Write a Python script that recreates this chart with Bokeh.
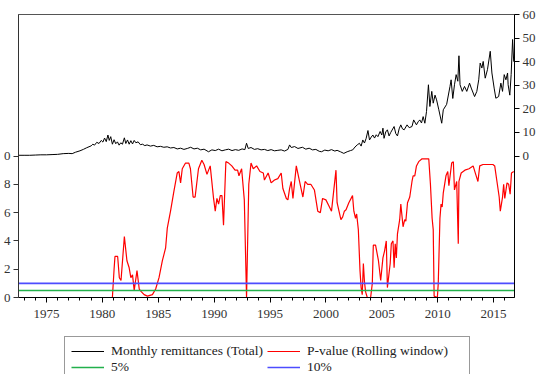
from bokeh.plotting import figure
from bokeh.layouts import column
from bokeh.models import Range1d, LinearAxis, FixedTicker, Legend, LegendItem
from bokeh.embed import file_html
from bokeh.resources import INLINE

# ---------------- data ----------------
x_start, x_end = 1972.5, 2016.87

rem_year = [1972.5, 1973.0, 1973.5, 1974.0, 1974.5, 1975.0, 1975.5, 1976.0, 1976.5, 1977.0,
            1977.3, 1977.6, 1978.0, 1978.3, 1978.6, 1979.0, 1979.15, 1979.3, 1979.5, 1979.7,
            1979.9, 1980.05, 1980.2, 1980.35, 1980.5, 1980.62, 1980.75, 1980.9, 1981.05, 1981.2,
            1981.35, 1981.5, 1981.65, 1981.8, 1981.97, 1982.1, 1982.25, 1982.4, 1982.55, 1982.7,
            1982.85, 1983.0, 1983.2, 1983.4, 1983.6, 1983.8, 1984.0, 1984.3, 1984.6, 1984.9,
            1985.2, 1985.5, 1985.8, 1986.1, 1986.4, 1986.7, 1987.0, 1987.3, 1987.6, 1987.9,
            1988.2, 1988.5, 1988.8, 1989.1, 1989.5, 1989.8, 1990.1, 1990.4, 1990.7, 1991.0,
            1991.3, 1991.6, 1991.9, 1992.2, 1992.5, 1992.75, 1992.9, 1993.05, 1993.3, 1993.6,
            1993.9, 1994.2, 1994.5, 1994.8, 1995.1, 1995.4, 1995.7, 1996.0, 1996.3, 1996.6,
            1996.75, 1996.9, 1997.2, 1997.5, 1997.9, 1998.2, 1998.5, 1998.8, 1999.1, 1999.4,
            1999.6, 1999.9, 2000.2, 2000.5, 2000.8, 2001.0, 2001.3, 2001.6, 2001.9, 2002.2,
            2002.4, 2002.6, 2002.8, 2003.0, 2003.15, 2003.3, 2003.45, 2003.6, 2003.76, 2003.9,
            2004.05, 2004.2, 2004.35, 2004.5, 2004.65, 2004.85, 2005.0, 2005.1, 2005.2, 2005.35,
            2005.5, 2005.65, 2005.8, 2006.1, 2006.25, 2006.4, 2006.55, 2006.7, 2006.85, 2007.0,
            2007.26, 2007.45, 2007.7, 2007.85, 2008.1, 2008.25, 2008.4, 2008.55, 2008.7, 2008.85,
            2009.0, 2009.17, 2009.3, 2009.47, 2009.6, 2009.76, 2009.9, 2010.1, 2010.36, 2010.5,
            2010.8, 2011.1, 2011.2, 2011.35, 2011.5, 2011.65, 2011.8, 2011.9, 2012.0, 2012.2,
            2012.4, 2012.6, 2012.85, 2013.0, 2013.3, 2013.5, 2013.67, 2013.8, 2013.95, 2014.07,
            2014.25, 2014.45, 2014.7, 2014.85, 2015.05, 2015.2, 2015.45, 2015.65, 2015.8, 2015.95,
            2016.1, 2016.25, 2016.3, 2016.45, 2016.57, 2016.7, 2016.8]
rem_value = [0.3, 0.3, 0.3, 0.4, 0.5, 0.5, 0.6, 0.7, 1.0, 1.1,
             1.0, 1.6, 2.2, 2.8, 3.5, 4.3, 5.0, 4.6, 5.8, 5.3,
             6.6, 5.9, 7.6, 6.1, 8.9, 6.6, 8.2, 5.0, 6.9, 5.2,
             6.0, 4.6, 5.6, 5.0, 7.7, 5.3, 6.8, 5.0, 6.5, 5.1,
             6.6, 5.6, 6.0, 4.8, 5.0, 4.4, 4.7, 4.2, 4.5, 3.9,
             4.1, 3.7, 3.9, 3.4, 3.6, 3.0, 3.3, 2.8, 3.2, 3.7,
             3.0, 3.3, 2.6, 2.9, 1.8, 2.6, 2.3, 2.9, 2.2, 2.6,
             2.9, 2.3, 2.7, 2.4, 3.0, 2.7, 5.4, 3.2, 3.6, 2.8,
             3.1, 2.6, 2.8, 2.3, 2.7, 2.2, 2.4, 2.6, 2.1, 2.8,
             4.7, 3.6, 4.0, 3.2, 3.7, 2.9, 3.3, 2.6, 2.8, 2.0,
             1.8, 2.5, 2.2, 2.7, 2.1, 2.4, 1.8, 1.1, 1.8, 2.3,
             2.6, 3.8, 4.7, 5.4, 4.2, 6.8, 5.5, 7.5, 10.8, 6.8,
             8.0, 8.9, 7.6, 9.0, 8.2, 10.4, 8.9, 11.8, 7.5, 10.2,
             11.1, 8.5, 10.0, 12.5, 9.5, 8.5, 11.5, 13.2, 11.5, 11.1,
             13.2, 12.0, 12.5, 15.3, 13.2, 14.5, 15.3, 14.0, 16.7, 13.9,
             18.9, 30.2, 21.0, 27.4, 22.4, 25.8, 23.8, 19.6, 13.9, 19.6,
             21.9, 29.5, 32.3, 24.4, 30.2, 34.5, 31.7, 42.5, 30.2, 27.4,
             29.5, 27.4, 30.9, 28.8, 25.2, 27.4, 32.3, 39.4, 37.3, 40.1,
             33.0, 36.6, 44.4, 35.2, 28.8, 24.5, 25.2, 30.9, 27.4, 34.5,
             32.3, 35.2, 30.2, 25.8, 34.5, 49.4, 40.0]

pval_year = [1980.90, 1981.05, 1981.13, 1981.37, 1981.52, 1981.67, 1981.97, 1982.20, 1982.40, 1982.55,
             1982.70, 1982.85, 1983.10, 1983.30, 1983.50, 1983.74, 1984.03, 1984.48, 1984.77, 1985.07,
             1985.37, 1985.66, 1985.81, 1986.10, 1986.40, 1986.70, 1986.85, 1987.00, 1987.15, 1987.44,
             1987.74, 1987.88, 1988.12, 1988.30, 1988.60, 1988.90, 1989.10, 1989.36, 1989.65, 1989.95,
             1990.10, 1990.25, 1990.40, 1990.55, 1990.70, 1990.84, 1991.05, 1991.30, 1991.58, 1991.87,
             1992.10, 1992.22, 1992.46, 1992.70, 1992.90, 1993.10, 1993.30, 1993.50, 1993.80, 1994.10,
             1994.40, 1994.50, 1994.83, 1995.10, 1995.40, 1995.70, 1996.00, 1996.15, 1996.46, 1996.60,
             1996.75, 1996.90, 1997.05, 1997.35, 1997.64, 1997.94, 1998.14, 1998.37, 1998.65, 1998.97,
             1999.27, 1999.50, 1999.70, 2000.00, 2000.25, 2000.50, 2000.90, 2001.00, 2001.34, 2001.50,
             2001.65, 2001.80, 2002.05, 2002.38, 2002.50, 2002.65, 2002.75, 2002.90, 2003.05, 2003.15,
             2003.25, 2003.35, 2003.45, 2003.55, 2003.70, 2004.00, 2004.15, 2004.24, 2004.44, 2004.70,
             2004.90, 2005.10, 2005.25, 2005.40, 2005.50, 2005.75, 2005.85, 2006.00, 2006.10, 2006.20,
             2006.30, 2006.40, 2006.60, 2006.70, 2006.90, 2007.05, 2007.15, 2007.30, 2007.50, 2007.70,
             2007.80, 2007.95, 2008.10, 2008.30, 2008.60, 2008.90, 2009.20, 2009.35, 2009.50, 2009.60,
             2009.68, 2009.97, 2010.05, 2010.20, 2010.30, 2010.40, 2010.50, 2010.74, 2010.90, 2011.00,
             2011.25, 2011.40, 2011.50, 2011.70, 2011.84, 2011.90, 2012.10, 2012.43, 2012.80, 2013.17,
             2013.40, 2013.60, 2013.76, 2014.05, 2014.50, 2014.94, 2015.10, 2015.30, 2015.50, 2015.60,
             2015.80, 2015.90, 2016.00, 2016.20, 2016.35, 2016.48, 2016.60, 2016.80]
pval_value = [0.00, 0.20, 0.29, 0.29, 0.14, 0.12, 0.43, 0.26, 0.21, 0.14,
              0.16, 0.05, 0.19, 0.06, 0.04, 0.02, 0.01, 0.02, 0.06, 0.14,
              0.26, 0.35, 0.49, 0.61, 0.75, 0.88, 0.89, 0.81, 0.91, 0.95,
              0.95, 0.91, 0.71, 0.71, 0.91, 0.97, 0.94, 0.87, 0.93, 0.70,
              0.61, 0.70, 0.66, 0.72, 0.72, 0.51, 0.96, 0.95, 0.93, 0.90,
              0.90, 0.86, 0.91, 0.69, 0.00, 0.80, 0.95, 0.91, 0.93, 0.89,
              0.88, 0.83, 0.88, 0.81, 0.83, 0.84, 0.88, 0.77, 0.70, 0.69,
              0.77, 0.82, 0.70, 0.93, 0.82, 0.71, 0.82, 0.80, 0.80, 0.76,
              0.61, 0.60, 0.70, 0.69, 0.65, 0.61, 0.90, 0.67, 0.55, 0.57,
              0.61, 0.62, 0.67, 0.72, 0.61, 0.56, 0.59, 0.48, 0.19, 0.07,
              0.02, 0.24, 0.11, 0.04, 0.00, 0.00, 0.10, 0.37, 0.37, 0.26,
              0.12, 0.28, 0.33, 0.40, 0.07, 0.24, 0.38, 0.40, 0.21, 0.38,
              0.28, 0.45, 0.55, 0.66, 0.50, 0.55, 0.54, 0.67, 0.71, 0.82,
              0.86, 0.86, 0.93, 0.96, 0.98, 0.98, 0.98, 0.80, 0.56, 0.48,
              0.01, 0.00, 0.10, 0.56, 0.66, 0.64, 0.74, 0.86, 0.89, 0.79,
              0.95, 0.96, 0.76, 0.82, 0.38, 0.82, 0.88, 0.90, 0.91, 0.93,
              0.87, 0.82, 0.93, 0.94, 0.94, 0.94, 0.93, 0.82, 0.71, 0.61,
              0.71, 0.80, 0.70, 0.81, 0.80, 0.73, 0.88, 0.89]

five_pct = 0.05
ten_pct = 0.10

x_ticks = [1975, 1980, 1985, 1990, 1995, 2000, 2005, 2010, 2015]
x_minor = list(range(1973, 2017))
left_ticks = [0.0, 0.2, 0.4, 0.6, 0.8, 1.0]
left_labels = {0.0: "0", 0.2: "2", 0.4: "4", 0.6: "6", 0.8: "8", 1.0: "0"}
right_ticks = [0, 10, 20, 30, 40, 50, 60]

names = ["Monthly remittances (Total)", "P-value (Rolling window)", "5%", "10%"]
colors = ["black", "#FF0000", "#22B04B", "#4D4DFF"]
widths = [1, 1.2, 1.4, 1.6]

# ---------------- main chart ----------------
FONT = "'Liberation Serif', 'DejaVu Serif', serif"

p = figure(width=549, height=330, output_backend="svg", toolbar_location=None,
           x_range=Range1d(x_start, x_end), y_range=Range1d(0, 2.0),
           min_border_left=15, min_border_right=35, min_border_top=14, min_border_bottom=33)
p.extra_y_ranges = {"rem": Range1d(-60, 60)}
p.background_fill_color = "white"
p.border_fill_color = "white"
p.outline_line_color = "#555555"
p.outline_line_width = 1
p.xgrid.visible = False
p.ygrid.visible = False

p.line(rem_year, rem_value, y_range_name="rem", line_color=colors[0], line_width=widths[0])
p.line(pval_year, pval_value, line_color=colors[1], line_width=widths[1])
p.line([x_start, x_end], [five_pct, five_pct], line_color=colors[2], line_width=widths[2])
p.line([x_start, x_end], [ten_pct, ten_pct], line_color=colors[3], line_width=widths[3])

xa = p.xaxis[0]
xa.ticker = FixedTicker(ticks=x_ticks, minor_ticks=x_minor)
xa.major_tick_out = 5
xa.major_tick_in = 0
xa.minor_tick_out = 3
xa.minor_tick_in = 0
xa.axis_line_color = "black"
xa.major_tick_line_color = "black"
xa.minor_tick_line_color = "black"
xa.major_label_text_font = FONT
xa.major_label_text_font_size = "13px"
xa.major_label_text_color = "#333333"
xa.major_label_standoff = 7

ya = p.yaxis[0]
ya.ticker = FixedTicker(ticks=left_ticks, minor_ticks=[])
ya.major_label_overrides = left_labels
ya.major_tick_out = 5
ya.major_tick_in = 0
ya.minor_tick_line_color = None
ya.axis_line_color = "#333333"
ya.major_tick_line_color = "#333333"
ya.major_label_text_font = FONT
ya.major_label_text_font_size = "13px"
ya.major_label_text_color = "#333333"
ya.major_label_standoff = 3

ra = LinearAxis(y_range_name="rem", ticker=FixedTicker(ticks=right_ticks, minor_ticks=[]))
ra.major_tick_out = 5
ra.major_tick_in = 0
ra.minor_tick_line_color = None
ra.axis_line_color = "black"
ra.major_tick_line_color = "black"
ra.major_label_text_font = FONT
ra.major_label_text_font_size = "13px"
ra.major_label_text_color = "#333333"
ra.major_label_standoff = 3
p.add_layout(ra, "right")

# ---------------- legend strip ----------------
lf = figure(width=549, height=44, output_backend="svg", toolbar_location=None,
            x_range=Range1d(0, 1), y_range=Range1d(0, 1),
            x_axis_type=None, y_axis_type=None,
            min_border_left=0, min_border_right=0, min_border_top=0, min_border_bottom=0)
lf.outline_line_color = None
lf.xgrid.visible = False
lf.ygrid.visible = False
lf.background_fill_color = "white"
lf.border_fill_color = "white"

# same series drawn again (outside this strip's view) only to supply legend glyphs
lr0 = lf.line(rem_year, rem_value, line_color=colors[0], line_width=widths[0])
lr1 = lf.line(pval_year, pval_value, line_color=colors[1], line_width=widths[1])
lr2 = lf.line([x_start, x_end], [five_pct, five_pct], line_color=colors[2], line_width=widths[2])
lr3 = lf.line([x_start, x_end], [ten_pct, ten_pct], line_color=colors[3], line_width=widths[3])

legend = Legend(items=[LegendItem(label=names[0], renderers=[lr0]),
                       LegendItem(label=names[1], renderers=[lr1]),
                       LegendItem(label=names[2], renderers=[lr2]),
                       LegendItem(label=names[3], renderers=[lr3])],
                orientation="horizontal", ncols=2, location=(46, -8))
legend.label_text_font = FONT
legend.label_text_font_size = "13.5px"
legend.label_text_color = "#222222"
legend.glyph_width = 33
legend.glyph_height = 12
legend.label_height = 12
legend.label_width = 156
legend.label_standoff = 7
legend.spacing = 0
legend.padding = 6
legend.margin = 0
legend.border_line_color = "#333333"
legend.border_line_width = 1
legend.background_fill_color = "white"
legend.background_fill_alpha = 1.0
lf.add_layout(legend, "center")

layout = column(p, lf, spacing=0)
open("out.html", "w").write(file_html(layout, INLINE))
